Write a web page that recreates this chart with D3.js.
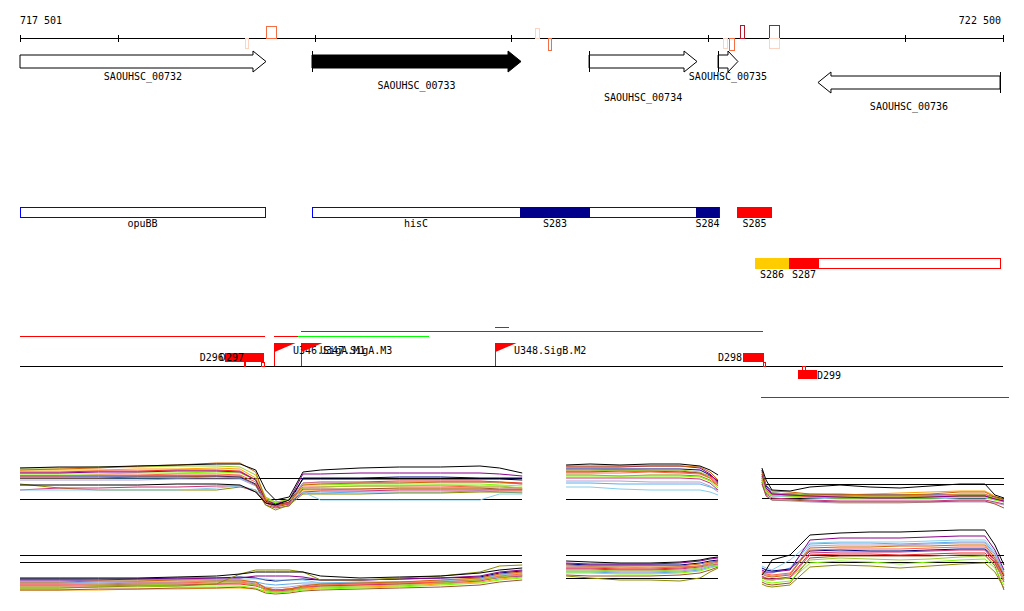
<!DOCTYPE html>
<html>
<head>
<meta charset="utf-8">
<script src="https://cdn.jsdelivr.net/npm/d3@7"></script>
<style>
body { margin: 0; background: #fff; }
text { font-family: "DejaVu Sans Mono", monospace; font-size: 10px; fill: #000; }
</style>
</head>
<body>
<script>
// view window
var viewStart = 717501, viewEnd = 722500;
var rulerTicks = [717501, 718000, 719000, 720000, 721000, 722000, 722500];

// genes
var geneName = ["SAOUHSC_00732", "SAOUHSC_00733", "SAOUHSC_00734", "SAOUHSC_00735", "SAOUHSC_00736"];
var geneLo = [717300, 718986, 720395, 721051, 721559];
var geneHi = [718752, 720049, 720944, 721152, 722485];
var geneStrand = ["+", "+", "+", "+", "-"];
var geneFilled = [false, true, false, false, false];
var geneLabelRow = [0, 1, 2, 0, 3];

// transcripts around the ruler
var tsLo = [718752, 718645, 720120, 720186, 721076, 721107, 721162, 721310, 721310];
var tsHi = [718803, 718661, 720140, 720201, 721097, 721132, 721183, 721361, 721361];
var tsSide = ["up", "down", "up", "down", "down", "down", "up", "up", "down"];
var tsLevel = ["mid", "low", "low", "mid", "low", "mid", "high", "high", "low"];

// annotation boxes
var boxName = ["opuBB", "", "hisC", "S283", "S284", "S285", "", "S286", "S287"];
var boxLo = [717501, 720044, 718986, 720044, 720939, 721147, 721239, 721239, 721412];
var boxHi = [718747, 721055, 720044, 720400, 721055, 721325, 722485, 721412, 721564];
var boxRow = [0, 0, 0, 0, 0, 0, 1, 1, 1];
var boxKind = ["frameBlue", "frameBlue", "frameBlue", "navy", "navy", "red", "frameRed", "yellow", "red"];

// regulatory track
var spanLo = [717501, 718793, 718915, 718930, 719917, 721269];
var spanHi = [718747, 718925, 719581, 721280, 719988, 722530];
var spanLane = [0, 0, 0, 1, 2, -1];
var spanKind = ["red", "red", "green", "red", "red", "red"];

var promoterName = ["U346.SigA.M1", "U347.SigA.M3", "U348.SigB.M2"];
var promoterPos = [718793, 718930, 719917];

var dName = ["D296", "D297", "D298", "D299"];
var dLo = [718543, 718645, 721178, 721457];
var dHi = [718645, 718742, 721285, 721554];
var dStrand = ["+", "+", "+", "-"];
var dMarkLo = [718641, 718725, 721280, 721476];
var dMarkHi = [718646, 718746, 721295, 721494];

// expression profiles, panel A
var posA = [717501, 717700, 717900, 718100, 718300, 718500, 718620, 718700, 718750, 718800, 718870, 718940, 719030, 719230, 719430, 719640, 719840, 719940, 720055];
var colA_top = ["#000000", "#000000", "#cd6600", "#9acd32", "#8b008b", "#ff6347", "#7cfc00", "#87ceeb", "#cd3278", "#8b8b00", "#a0522d", "#b0a0d0", "#000080", "#ee2c2c", "#ffa500", "#5cacee"];
var A_top = [
  [11, 11.25, 11.25, 11.5, 11.75, 12, 12, 10.5, 5.5, 3, 3.75, 10, 10.5, 11, 11.25, 11.25, 11.5, 11, 9.75],
  [6.75, 6.75, 6.75, 6.75, 7, 7, 6.75, 5, 2.25, 1.75, 3, 8.25, 8.25, 8.25, 8.25, 8.25, 8.25, 8.25, 8],
  [10.5, 10.75, 11, 11.5, 11.75, 12.25, 12.25, 10, 3, 1.5, 2.25, 6.75, 7, 7.25, 7.25, 7.5, 7.5, 7.5, 7],
  [11, 11, 11.25, 11.25, 11.5, 11.5, 11.25, 9.25, 3.75, 2.5, 3, 6, 6.25, 6.5, 6.5, 6.75, 6.5, 6.5, 6],
  [9.75, 9.75, 10, 10, 10.25, 10.25, 10, 8, 3, 2, 3, 9.5, 9.5, 9.75, 9.75, 9.75, 9.75, 9.5, 9],
  [9, 9, 9.25, 9.25, 9.5, 9.5, 9.25, 7.5, 2.5, 1.5, 2.25, 6.25, 6.25, 6.5, 6.5, 6.5, 6.25, 6.25, 6],
  [9.5, 9.5, 9.5, 9.75, 9.75, 10, 9.75, 8, 3.25, 2.25, 3.25, 6.75, 6.75, 7, 7, 7, 7, 6.75, 6.5],
  [5.5, 5.5, 5.5, 5.5, 5.5, 6, 6.5, 5.5, 3, 2.25, 3, 5, 3, 3, 3, 3, 3, 4.5, 4.5],
  [5.5, 6, 6, 6.25, 6.25, 6.5, 6.5, 5, 2.25, 1.25, 2, 5, 5.25, 5.25, 5.5, 5.5, 5.5, 5.5, 5.5],
  [7, 6, 5.5, 5.5, 5.5, 5.5, 6.25, 5.5, 1.75, 0.5, 1.75, 4.5, 4.5, 4.5, 4.75, 4.75, 5, 5, 5],
  [8.5, 8.5, 8.5, 8.75, 8.75, 9, 9, 6.75, 1.75, 1, 1.5, 5.75, 5.75, 5.75, 6, 6, 6, 5.75, 5.75],
  [8, 8, 8, 8, 8.25, 8.25, 8.25, 6.5, 2.25, 1.5, 2, 7.25, 7.25, 7.25, 7.5, 7.5, 7.5, 7.25, 7],
  [9, 9, 9, 9, 9, 9, 8.75, 7, 2.75, 1.75, 2.25, 8.5, 8.5, 8.5, 8.75, 8.75, 8.5, 8.5, 8.5],
  [10, 10, 10.25, 10.25, 10.5, 10.5, 10.25, 8, 2.75, 1.75, 2.5, 7.25, 7.5, 7.5, 7.75, 7.75, 7.75, 7.5, 7.25],
  [10.5, 10.5, 10.5, 10.75, 10.75, 11, 10.75, 8.5, 3.5, 2.5, 3, 5.5, 5.5, 5.75, 5.75, 5.75, 5.75, 5.5, 5.5],
  [8.5, 8.5, 8.5, 8.5, 8.5, 8.75, 8.5, 6.75, 2.5, 1.75, 2.5, 4.75, 4.75, 5, 5, 5, 5.25, 5, 4.75]
];
var colA_bot = ["#000000", "#8b8b00", "#cd6600", "#9acd32", "#8b008b", "#ff6347", "#7cfc00", "#87ceeb", "#cd3278", "#a0522d", "#b0a0d0", "#000080", "#ee2c2c", "#ffa500", "#5cacee"];
var A_bot = [
  [5.5, 5.5, 5.5, 5.5, 5.75, 6, 6.5, 7, 7, 7, 7, 7, 6, 5.5, 5.75, 6, 6.75, 7.5, 8],
  [3, 3, 3.25, 3.5, 3.5, 4, 6.5, 7.5, 7.5, 7.5, 7.5, 7, 5, 5, 5.5, 6, 7, 8.5, 8.75],
  [4.5, 4.5, 4.75, 4.75, 5, 5, 5, 4.5, 3, 2.5, 2.75, 3.5, 4, 4.25, 4.5, 5, 5.5, 6.5, 7],
  [3.5, 3.5, 3.75, 3.75, 4, 4.25, 4.25, 3.75, 2.5, 2, 2.25, 3, 3.25, 3.5, 3.75, 4.25, 5, 5.75, 6.25],
  [5, 5, 5, 5.25, 5.25, 5.5, 5.5, 6, 6, 6, 6, 5.75, 5, 5, 5.25, 5.5, 6, 7, 7.5],
  [4, 4, 4, 4.25, 4.25, 4.5, 4.5, 4, 3, 2.5, 2.75, 3.25, 3.75, 4, 4.25, 4.5, 5, 6, 6.5],
  [3, 3, 3.25, 3.25, 3.5, 3.5, 3.5, 3, 2, 1.75, 2, 2.5, 2.75, 3, 3.25, 3.75, 4.25, 5, 5.5],
  [4.75, 4.75, 5, 5, 5, 5.25, 5.25, 5.25, 5.25, 5, 5, 5, 4.25, 4.25, 4.5, 4.75, 5.25, 6.25, 6.75],
  [3.75, 3.75, 3.75, 4, 4, 4, 4.25, 3.75, 2.5, 2.25, 2.5, 3, 3.5, 3.75, 4, 4.25, 4.75, 5.75, 6],
  [2.5, 2.5, 2.75, 2.75, 3, 3, 3.25, 2.75, 1.75, 1.5, 1.75, 2.25, 2.5, 2.75, 3, 3.25, 3.75, 4.5, 5],
  [4.25, 4.25, 4.25, 4.5, 4.5, 4.75, 4.75, 4.25, 3.25, 3, 3.25, 3.75, 4, 4.25, 4.5, 4.75, 5.25, 6.25, 6.75],
  [5.25, 5.25, 5.25, 5.25, 5.5, 5.5, 5.75, 5.5, 5, 4.75, 5, 5.25, 5, 5, 5.25, 5.5, 5.75, 6.75, 7.25],
  [3.5, 3.5, 3.5, 3.75, 3.75, 4, 4, 3.5, 2.75, 2.5, 2.75, 3.25, 3.5, 3.75, 4, 4.5, 5, 5.75, 6.25],
  [2.5, 2.5, 2.5, 2.75, 2.75, 3, 3, 2.75, 2.25, 2, 2.25, 2.75, 3, 3.25, 3.5, 4, 4.5, 5.25, 5.75],
  [4.25, 4.25, 4.5, 4.5, 4.5, 4.75, 4.75, 4.5, 4, 3.75, 4, 4.25, 4.25, 4.5, 4.5, 4.75, 5, 5.5, 6]
];
var refA_top = [8.5, 3.25], refA_bot = [11.25, 9.5];

// panel B
var posB = [720278, 720400, 720552, 720705, 720857, 720959, 721010, 721051];
var colB_top = ["#000000", "#cd6600", "#8b008b", "#9acd32", "#ff6347", "#7cfc00", "#87ceeb", "#cd3278", "#8b8b00", "#a0522d", "#b0a0d0", "#000080", "#ee2c2c", "#5cacee"];
var B_top = [
  [11.75, 12, 11.75, 12, 12, 11.5, 10.5, 9.25],
  [11.5, 11.5, 11.5, 11.5, 11.5, 11.25, 10, 8],
  [11.25, 11.25, 11.25, 11.5, 11.5, 11, 9.5, 7.5],
  [10.5, 10.5, 10.25, 10.5, 10.5, 10, 8.75, 6.75],
  [9.75, 9.75, 9.75, 10, 9.75, 9.5, 8.5, 6.5],
  [9, 9, 9, 9, 9, 8.75, 7.75, 6],
  [6.25, 6.25, 5.75, 5.5, 5.5, 5.5, 5, 4.25],
  [8.5, 8.5, 8.5, 8.5, 8.5, 8.25, 7.25, 5.5],
  [9.25, 9.25, 9, 9.25, 9.25, 9, 8, 6.5],
  [10, 10, 10.25, 10.25, 10.25, 9.75, 8.5, 7],
  [7.75, 7.75, 7.75, 7.5, 7.5, 7.5, 6.5, 5],
  [10.75, 10.75, 10.75, 10.75, 10.75, 10.5, 9.25, 7.75],
  [10.25, 10.25, 10.25, 10.25, 10, 9.75, 9, 7.25],
  [7.25, 7.25, 7, 7, 7, 7, 6.25, 5.5]
];
var colB_bot = ["#000000", "#8b008b", "#cd6600", "#9acd32", "#ff6347", "#7cfc00", "#87ceeb", "#cd3278", "#8b8b00", "#a0522d", "#b0a0d0", "#000080", "#ee2c2c", "#5cacee"];
var B_bot = [
  [9.75, 9.5, 9.25, 9.25, 9.5, 10, 10.5, 10.75],
  [9.25, 9, 9, 9, 9.25, 9.75, 10.25, 10.5],
  [8.75, 8.5, 8.5, 8.5, 8.5, 9, 9.5, 9.75],
  [7.5, 7.5, 7.25, 7.25, 7.5, 8, 8.75, 9.25],
  [8.25, 8.25, 8, 8, 8.25, 8.5, 9, 9.5],
  [6.75, 6.75, 6.5, 6.5, 6.75, 7.25, 8, 8.5],
  [8.5, 8.25, 8.25, 8, 8.25, 8.5, 9.25, 9.5],
  [7.75, 7.75, 7.5, 7.5, 7.75, 8.25, 8.75, 9],
  [6, 5.5, 5, 5, 4.75, 5.5, 7, 8],
  [6.25, 6, 6, 6, 6.25, 6.75, 7.5, 8.25],
  [7.25, 7.25, 7, 7, 7.25, 7.75, 8.5, 8.75],
  [9, 8.75, 8.75, 8.75, 8.75, 9.25, 9.75, 10],
  [8, 8, 7.75, 7.75, 8, 8.5, 9.25, 9.75],
  [7, 7, 6.75, 6.75, 7, 7.5, 8.25, 8.5]
];
var refB_top = [3.25], refB_bot = [11.25, 5.5];

// panel C
var posC = [721274, 721295, 721325, 721417, 721518, 721671, 721824, 721976, 722129, 722281, 722408, 722459, 722505];
var colC_top = ["#000000", "#cd6600", "#8b008b", "#9acd32", "#ff6347", "#7cfc00", "#87ceeb", "#cd3278", "#8b8b00", "#a0522d", "#b0a0d0", "#000080", "#ee2c2c", "#ffa500"];
var C_top = [
  [11, 8, 5.5, 5.25, 6.25, 6.75, 6.25, 6, 6.5, 7, 7, 4.25, 3.5],
  [10, 6.75, 5.25, 5, 4.5, 4.5, 4.25, 4.25, 4.5, 5, 5, 3.75, 3],
  [9.5, 6, 4.5, 4.25, 4, 3.75, 3.5, 3.5, 3.75, 4, 4, 3.25, 2.75],
  [9, 5.5, 4.75, 4.5, 4.25, 4, 4, 4, 4, 4.25, 4.25, 3.5, 3],
  [8.5, 5.5, 4.5, 4.25, 3.75, 3.75, 3.75, 3.75, 4, 4.5, 4.5, 3.5, 2.5],
  [8, 5, 4.25, 4, 3.75, 3.5, 3.5, 3.5, 3.5, 3.75, 3.75, 3, 2.5],
  [8.5, 5, 4, 3.75, 3.5, 3.25, 3.25, 3.25, 3.25, 3.5, 3.5, 3, 2.5],
  [7.5, 4.5, 3.5, 3.25, 3, 2.75, 2.75, 2.75, 2.75, 3, 3, 2.5, 2],
  [8, 4.75, 4, 4, 3.75, 3.75, 3.75, 3.75, 4, 4, 4, 3.5, 3.25],
  [7, 4, 3, 3, 2.75, 2.5, 2.5, 2.5, 2.5, 2.75, 2.75, 2, 1],
  [7.5, 4.25, 3, 2.75, 2.5, 2.25, 2.25, 2.25, 2.5, 2.5, 2.5, 2.25, 1.75],
  [10.5, 6.5, 4.75, 4.5, 4.25, 4.25, 4.25, 4.25, 4.25, 4.25, 4.25, 3.75, 3.25],
  [9, 5.5, 4.25, 4, 3.75, 3.5, 3.5, 3.5, 3.75, 4, 4, 3.25, 2.75],
  [8.5, 5.25, 4.5, 4.5, 4.5, 4.25, 4.5, 4.75, 5, 5.25, 5.25, 4, 3]
];
var colC_bot = ["#000000", "#8b008b", "#cd6600", "#9acd32", "#ff6347", "#7cfc00", "#87ceeb", "#cd3278", "#8b8b00", "#a0522d", "#b0a0d0", "#000080", "#ee2c2c", "#5cacee"];
var C_bot = [
  [6.25, 7.5, 10, 11.25, 16.25, 16.75, 17, 17, 17.25, 17.5, 17.5, 13.75, 8.75],
  [7.5, 7, 7, 7.5, 15, 15.5, 15.5, 15.5, 15.75, 16, 16, 12.5, 7.5],
  [6.5, 6, 5.75, 6.25, 13, 13.25, 13.25, 13.5, 13.5, 13.75, 13.75, 10.5, 6.25],
  [5.5, 5, 5, 5.5, 10, 10.5, 10.25, 10, 10.25, 10.75, 11, 8.75, 5],
  [7, 6.5, 6.25, 6.75, 12.5, 12.75, 12.75, 12.75, 13, 13.25, 13.25, 10, 5.5],
  [5, 4.5, 4.25, 4.75, 9.25, 9.75, 9.5, 9, 9.5, 10, 10.25, 8, 3.75],
  [8.5, 8, 7.5, 10, 14.25, 14.5, 14.5, 14.5, 14.75, 15, 15, 12, 7],
  [6, 5.5, 5.25, 5.75, 11.75, 12, 12, 12, 12.25, 12.5, 12.5, 9.5, 5],
  [4, 3.5, 3.25, 3.75, 8.25, 8.75, 8.5, 8, 8.5, 9, 9.25, 7, 3],
  [4.5, 4, 3.75, 4.25, 10.5, 11, 11, 11, 11, 11.25, 11.25, 8.5, 2.5],
  [6.75, 6.25, 6, 6.5, 13.5, 13.75, 13.75, 13.75, 14, 14.25, 14.25, 11, 6.5],
  [8, 7.5, 7.25, 7.75, 12.25, 12.5, 12.25, 12.25, 12.5, 12.75, 12.75, 10, 6],
  [5.75, 5.25, 5, 5.5, 11.25, 11.5, 11.5, 11.25, 11.5, 11.75, 11.75, 9.25, 4.5],
  [7.25, 6.75, 6.75, 8, 14, 14.25, 14.25, 14, 14.25, 14.5, 14.5, 11.5, 7]
];
var refC_top = [8.5, 7, 3.5], refC_bot = [11.25, 9.5, 5.5];

var width = 1024, height = 611;
var svg = d3.select("body").append("svg")
  .attr("width", width)
  .attr("height", height);

var x = d3.scaleLinear().domain([viewStart, viewEnd]).range([20, 1003]);
function xc(v) { return x(Math.max(viewStart, Math.min(viewEnd, v))); }

// ruler
var ruler = svg.append("g").attr("shape-rendering", "crispEdges");
ruler.append("line")
  .attr("x1", x(viewStart)).attr("x2", x(viewEnd))
  .attr("y1", 38.5).attr("y2", 38.5)
  .attr("stroke", "#000");
ruler.selectAll("line.tick").data(rulerTicks).enter().append("line")
  .attr("class", "tick")
  .attr("x1", function(d) { return Math.round(x(d)) + 0.5; })
  .attr("x2", function(d) { return Math.round(x(d)) + 0.5; })
  .attr("y1", 35).attr("y2", 42)
  .attr("stroke", "#000");
svg.append("text").attr("x", 20).attr("y", 24).text(d3.format(",")(viewStart).replace(",", " "));
svg.append("text").attr("x", 1001).attr("y", 24).attr("text-anchor", "end")
  .text(d3.format(",")(viewEnd).replace(",", " "));

// transcripts near ruler
var tsColour = { high: "#b2182b", mid: "#f46d43", low: "#fdd4c2" };
var tsHeight = { high: 13, mid: 12, low: 10 };
svg.append("g").attr("shape-rendering", "crispEdges")
  .selectAll("rect").data(tsLo).enter().append("rect")
  .attr("x", function(d, i) { return Math.round(x(tsLo[i])) + 0.5; })
  .attr("width", function(d, i) { return Math.max(2, Math.round(x(tsHi[i]) - x(tsLo[i]))); })
  .attr("y", function(d, i) { return tsSide[i] == "up" ? 38.5 - tsHeight[tsLevel[i]] : 38.5; })
  .attr("height", function(d, i) { return tsHeight[tsLevel[i]]; })
  .attr("fill", "none")
  .attr("stroke", function(d, i) { return tsColour[tsLevel[i]]; });

// genes
var genesG = svg.append("g");
geneName.forEach(function(name, i) {
  var lo = xc(geneLo[i]), hi = xc(geneHi[i]);
  var h = Math.min(13, (hi - lo) / 2);
  var path, tickX, yTop;
  if (geneStrand[i] == "+") {
    yTop = 51;
    path = "M" + lo + ",55 L" + (hi - h) + ",55 L" + (hi - h) + ",51 L" + hi + ",61.5 L" +
      (hi - h) + ",72 L" + (hi - h) + ",68 L" + lo + ",68 Z";
    tickX = geneLo[i] > viewStart ? lo : null;
  } else {
    yTop = 72;
    path = "M" + hi + ",76 L" + (lo + h) + ",76 L" + (lo + h) + ",72 L" + lo + ",82.5 L" +
      (lo + h) + ",93 L" + (lo + h) + ",89 L" + hi + ",89 Z";
    tickX = geneHi[i] < viewEnd ? hi : null;
  }
  genesG.append("path").attr("d", path)
    .attr("fill", geneFilled[i] ? "#000" : "#fff")
    .attr("stroke", "#000").attr("stroke-width", 1);
  if (tickX !== null) {
    genesG.append("line").attr("x1", tickX).attr("x2", tickX)
      .attr("y1", yTop).attr("y2", yTop + 21)
      .attr("stroke", "#000").attr("shape-rendering", "crispEdges");
  }
  var labelY = [80, 89, 101, 110][geneLabelRow[i]];
  genesG.append("text").attr("x", (lo + hi) / 2).attr("y", labelY)
    .attr("text-anchor", "middle").text(name);
});

// annotation boxes
var boxStyle = {
  frameBlue: { fill: "#fff", stroke: "#0000ff" },
  frameRed: { fill: "#fff", stroke: "#ff0000" },
  navy: { fill: "#00008b", stroke: "none" },
  red: { fill: "#ff0000", stroke: "none" },
  yellow: { fill: "#ffcc00", stroke: "none" }
};
var rowTop = [207, 258];
var boxesG = svg.append("g").attr("shape-rendering", "crispEdges");
boxName.forEach(function(name, i) {
  var st = boxStyle[boxKind[i]];
  var framed = st.stroke != "none";
  var lo = x(boxLo[i]), hi = x(boxHi[i]);
  boxesG.append("rect")
    .attr("x", framed ? lo + 0.5 : lo)
    .attr("y", framed ? rowTop[boxRow[i]] + 0.5 : rowTop[boxRow[i]])
    .attr("width", hi - lo)
    .attr("height", framed ? 10 : 11)
    .attr("fill", st.fill)
    .attr("stroke", st.stroke);
  if (name) {
    boxesG.append("text").attr("x", (lo + hi) / 2)
      .attr("y", rowTop[boxRow[i]] + 20)
      .attr("text-anchor", "middle").text(name);
  }
});

// regulatory track
var regG = svg.append("g").attr("shape-rendering", "crispEdges");
var laneY = { "0": 336.5, "1": 331.5, "2": 327.5, "-1": 397.5 };
var spanColour = { red: "#ff0000", green: "#00ff00" };
regG.append("line").attr("x1", 20).attr("x2", 1003).attr("y1", 366.5).attr("y2", 366.5).attr("stroke", "#000");
spanLo.forEach(function(d, i) {
  regG.append("line")
    .attr("x1", x(spanLo[i])).attr("x2", x(spanHi[i]))
    .attr("y1", laneY[spanLane[i]]).attr("y2", laneY[spanLane[i]])
    .attr("stroke", spanColour[spanKind[i]]);
});

dName.forEach(function(name, i) {
  var lo = x(dLo[i]), hi = x(dHi[i]);
  var fwd = dStrand[i] == "+";
  regG.append("rect").attr("x", lo).attr("width", hi - lo)
    .attr("y", fwd ? 353 : 370).attr("height", 9)
    .attr("fill", "#ff0000");
  var mlo = x(dMarkLo[i]), mhi = x(dMarkHi[i]);
  regG.append("rect").attr("x", Math.round(mlo) + 0.5).attr("width", Math.max(0.5, Math.round(mhi - mlo) - 1))
    .attr("y", fwd ? 362.5 : 366.5).attr("height", 4)
    .attr("fill", "#fff").attr("stroke", "#ff0000");
});
dName.forEach(function(name, i) {
  var fwd = dStrand[i] == "+";
  svg.append("text")
    .attr("x", fwd ? x(dLo[i]) - 1 : x(dHi[i]))
    .attr("y", fwd ? 361 : 379)
    .attr("text-anchor", fwd ? "end" : "start")
    .text(name);
});

promoterPos.forEach(function(p, i) {
  var px = Math.round(x(p)) + 0.5;
  regG.append("line").attr("x1", px).attr("x2", px).attr("y1", 343).attr("y2", 366)
    .attr("stroke", "#ff0000");
  svg.append("polygon")
    .attr("points", px + ",343 " + (px + 21) + ",343 " + px + ",352")
    .attr("fill", "#ff0000");
  svg.append("text").attr("x", px + 18.5).attr("y", 354).text(promoterName[i]);
});

// expression profiles
var yTop = d3.scaleLinear().domain([0, 15]).range([512, 452]);
var yBot = d3.scaleLinear().domain([0, 15]).range([600, 540]);

function drawPanel(pos, series, colours, refs, y) {
  var g = svg.append("g");
  var x0 = x(pos[0]), x1 = x(pos[pos.length - 1]);
  g.selectAll("line.ref").data(refs).enter().append("line")
    .attr("class", "ref")
    .attr("x1", x0).attr("x2", x1)
    .attr("y1", function(d) { return Math.round(y(d)) + 0.5; })
    .attr("y2", function(d) { return Math.round(y(d)) + 0.5; })
    .attr("stroke", "#000")
    .attr("shape-rendering", "crispEdges");
  var line = d3.line()
    .x(function(d, i) { return x(pos[i]); })
    .y(function(d) { return y(d); });
  var order = d3.range(series.length).reverse();
  g.selectAll("path.profile").data(order).enter().append("path")
    .attr("class", "profile")
    .attr("d", function(k) { return line(series[k]); })
    .attr("fill", "none")
    .attr("stroke", function(k) { return colours[k]; })
    .attr("stroke-width", 1);
}

drawPanel(posA, A_top, colA_top, refA_top, yTop);
drawPanel(posA, A_bot, colA_bot, refA_bot, yBot);
drawPanel(posB, B_top, colB_top, refB_top, yTop);
drawPanel(posB, B_bot, colB_bot, refB_bot, yBot);
drawPanel(posC, C_top, colC_top, refC_top, yTop);
drawPanel(posC, C_bot, colC_bot, refC_bot, yBot);
</script>
</body>
</html>
